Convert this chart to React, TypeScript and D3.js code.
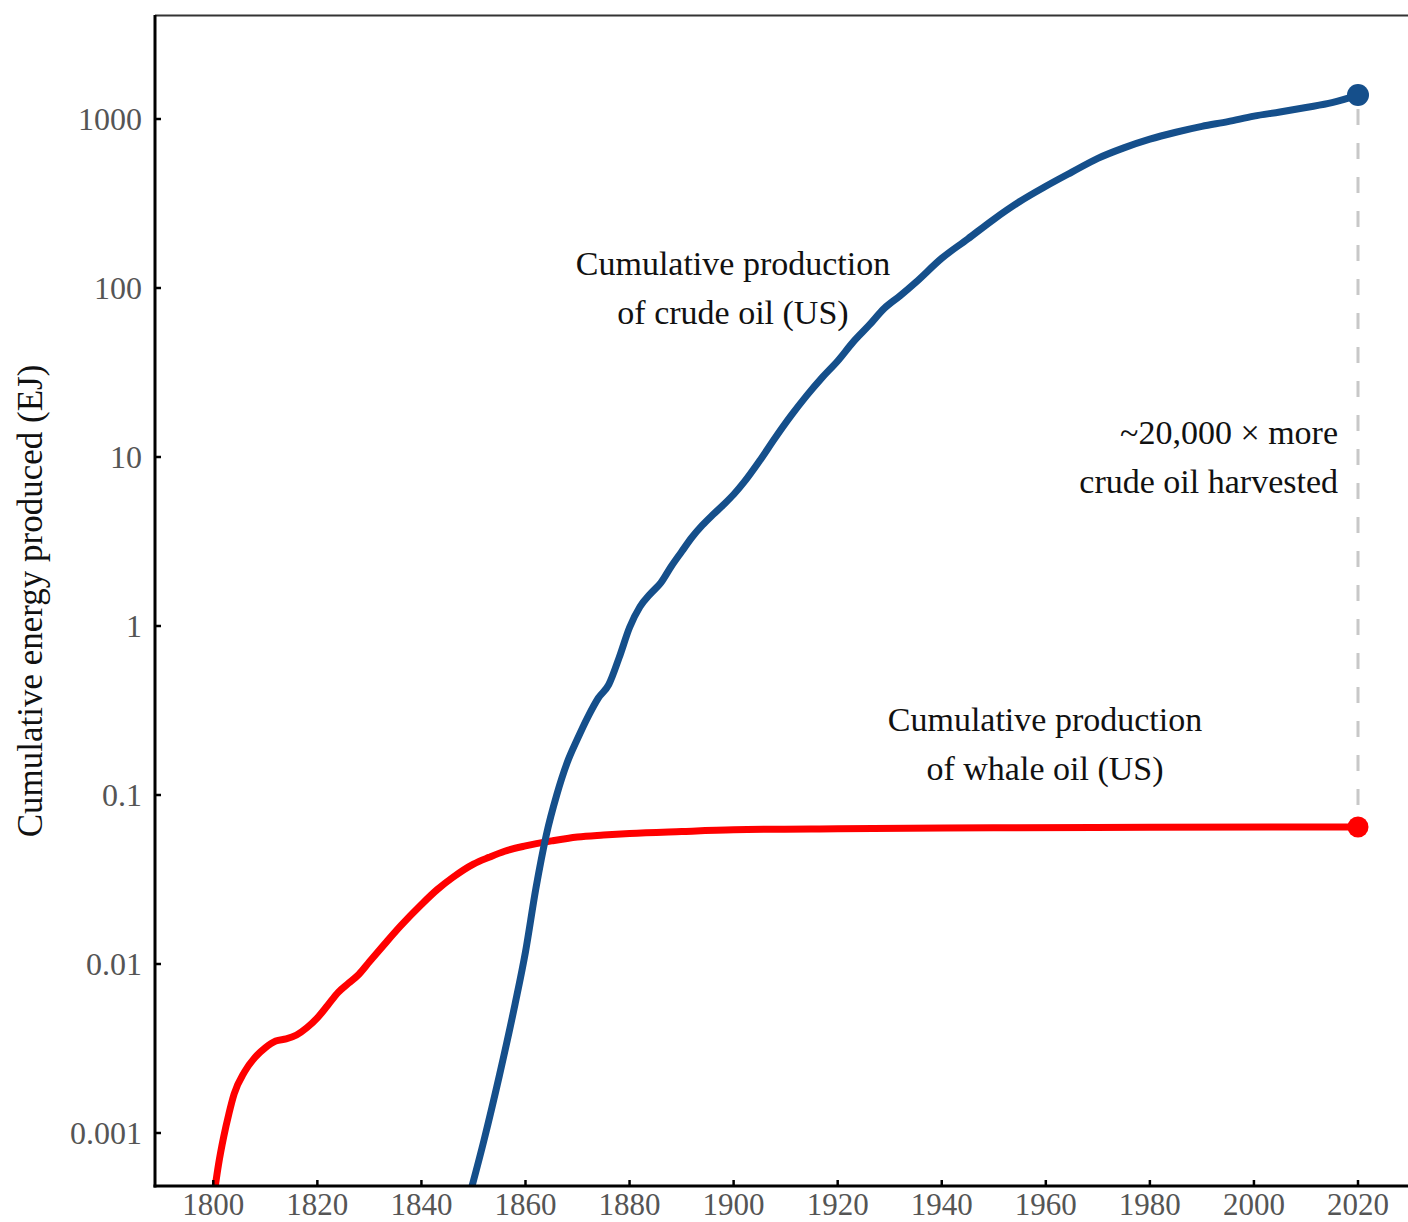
import React from 'react'
import * as d3 from 'd3'

// cumulative US crude oil production (EJ)
const oilYears = [1849, 1852, 1855, 1858, 1860, 1862, 1864, 1866, 1868, 1870, 1872, 1874, 1876, 1878, 1880, 1882, 1884, 1886, 1888, 1890, 1892, 1894, 1896, 1898, 1900, 1902, 1905, 1908, 1911, 1914, 1917, 1920, 1923, 1926, 1929, 1932, 1935, 1940, 1945, 1950, 1955, 1960, 1965, 1970, 1975, 1980, 1985, 1990, 1995, 2000, 2005, 2010, 2015, 2020]
const oilValues = [0.0004, 0.0009, 0.0022, 0.0058, 0.0118, 0.028, 0.058, 0.1, 0.155, 0.215, 0.29, 0.375, 0.45, 0.65, 0.98, 1.3, 1.55, 1.8, 2.25, 2.75, 3.35, 3.95, 4.55, 5.2, 6.0, 7.1, 9.5, 13, 17.5, 23, 29.5, 37, 48, 60, 76, 90, 108, 150, 195, 255, 325, 400, 485, 585, 675, 760, 835, 905, 965, 1040, 1100, 1170, 1250, 1385]

// cumulative US whale oil production (EJ)
const whaleYears = [1800, 1801, 1802, 1803, 1804, 1806, 1808, 1810, 1812, 1814, 1816, 1818, 1820, 1822, 1824, 1826, 1828, 1830, 1833, 1836, 1840, 1843, 1846, 1850, 1853, 1856, 1860, 1865, 1870, 1875, 1880, 1890, 1900, 1920, 1950, 1980, 2020]
const whaleValues = [0.0004, 0.00065, 0.00095, 0.0013, 0.0017, 0.0023, 0.0028, 0.0032, 0.0035, 0.0036, 0.0038, 0.0042, 0.0048, 0.0057, 0.0068, 0.0077, 0.0087, 0.0103, 0.0132, 0.0168, 0.0225, 0.0275, 0.0325, 0.039, 0.0428, 0.0465, 0.05, 0.0535, 0.0565, 0.058, 0.0592, 0.0608, 0.0622, 0.0632, 0.064, 0.0644, 0.0647]

const xTicks = [1800, 1820, 1840, 1860, 1880, 1900, 1920, 1940, 1960, 1980, 2000, 2020]
const yTicks = [0.001, 0.01, 0.1, 1, 10, 100, 1000]
const yTickLabels = ['0.001', '0.01', '0.1', '1', '10', '100', '1000']

const oilLabel = ['Cumulative production', 'of crude oil (US)']
const whaleLabel = ['Cumulative production', 'of whale oil (US)']
const ratioLabel = ['~20,000 \u00d7 more', 'crude oil harvested']
const yTitle = 'Cumulative energy produced (EJ)'

const BLUE = '#154f8b'
const RED = '#ff0000'
const FONT = '"Liberation Serif", "DejaVu Serif", serif'

class App extends React.Component {
  constructor (props) {
    super(props)
    this.myRef = React.createRef()
  }

  componentDidMount () {
    const width = 1408
    const height = 1222
    const plot = { left: 155, top: 15, right: 1420, bottom: 1186 }

    const svg = d3.select(this.myRef.current)
    svg.selectAll('*').remove()
    svg.attr('width', width).attr('height', height)

    // scales: ticks sit at fixed pixel spacing
    const x = d3.scaleLinear().domain([1800, 2020]).range([213.3, 1358])
    const y = d3.scaleLog().domain([0.001, 1000]).range([1133, 119])

    svg.append('defs').append('clipPath')
      .attr('id', 'plot-clip')
      .append('rect')
      .attr('x', plot.left)
      .attr('y', plot.top)
      .attr('width', plot.right - plot.left)
      .attr('height', plot.bottom - plot.top)

    const line = d3.line()
      .x((d) => x(d[0]))
      .y((d) => y(d[1]))
      .curve(d3.curveMonotoneX)

    const oil = oilYears.map((yr, i) => [yr, oilValues[i]])
    const whale = whaleYears.map((yr, i) => [yr, whaleValues[i]])
    const lastOil = oil[oil.length - 1]
    const lastWhale = whale[whale.length - 1]

    // dashed gap between the two end points
    svg.append('line')
      .attr('x1', x(2020))
      .attr('x2', x(2020))
      .attr('y1', y(lastOil[1]) + 14)
      .attr('y2', y(lastWhale[1]) - 8)
      .attr('stroke', '#c8c8c8')
      .attr('stroke-width', 3)
      .attr('stroke-dasharray', '16,18')

    const g = svg.append('g').attr('clip-path', 'url(#plot-clip)')

    g.append('path')
      .datum(whale)
      .attr('d', line)
      .attr('fill', 'none')
      .attr('stroke', RED)
      .attr('stroke-width', 7)

    g.append('path')
      .datum(oil)
      .attr('d', line)
      .attr('fill', 'none')
      .attr('stroke', BLUE)
      .attr('stroke-width', 7)

    svg.append('circle')
      .attr('cx', x(lastOil[0]))
      .attr('cy', y(lastOil[1]))
      .attr('r', 11)
      .attr('fill', BLUE)

    svg.append('circle')
      .attr('cx', x(lastWhale[0]))
      .attr('cy', y(lastWhale[1]))
      .attr('r', 10.5)
      .attr('fill', RED)

    // frame: thin top border, heavy left and bottom axes
    svg.append('line')
      .attr('x1', plot.left).attr('x2', width)
      .attr('y1', plot.top + 0.5).attr('y2', plot.top + 0.5)
      .attr('stroke', '#333').attr('stroke-width', 2)

    svg.append('line')
      .attr('x1', plot.left).attr('x2', plot.left)
      .attr('y1', plot.top).attr('y2', plot.bottom + 1.5)
      .attr('stroke', '#000').attr('stroke-width', 3)

    svg.append('line')
      .attr('x1', plot.left - 1.5).attr('x2', width)
      .attr('y1', plot.bottom).attr('y2', plot.bottom)
      .attr('stroke', '#000').attr('stroke-width', 3)

    // x ticks (pointing inward)
    const xg = svg.append('g')
    xg.selectAll('line')
      .data(xTicks)
      .enter()
      .append('line')
      .attr('x1', (d) => x(d)).attr('x2', (d) => x(d))
      .attr('y1', plot.bottom).attr('y2', plot.bottom - 6)
      .attr('stroke', '#000').attr('stroke-width', 2.5)
    xg.selectAll('text')
      .data(xTicks)
      .enter()
      .append('text')
      .attr('x', (d) => x(d))
      .attr('y', 1215)
      .attr('text-anchor', 'middle')
      .attr('fill', '#555')
      .style('font-family', FONT)
      .style('font-size', '31px')
      .text((d) => d)

    // y ticks
    const yg = svg.append('g')
    yg.selectAll('line')
      .data(yTicks)
      .enter()
      .append('line')
      .attr('x1', plot.left).attr('x2', plot.left + 6)
      .attr('y1', (d) => y(d)).attr('y2', (d) => y(d))
      .attr('stroke', '#000').attr('stroke-width', 2.5)
    yg.selectAll('text')
      .data(yTicks)
      .enter()
      .append('text')
      .attr('x', 142)
      .attr('y', (d) => y(d))
      .attr('dy', '0.35em')
      .attr('text-anchor', 'end')
      .attr('fill', '#555')
      .style('font-family', FONT)
      .style('font-size', '32px')
      .text((d, i) => yTickLabels[i])

    svg.append('text')
      .attr('transform', 'translate(42,601) rotate(-90)')
      .attr('text-anchor', 'middle')
      .attr('fill', '#111')
      .style('font-family', FONT)
      .style('font-size', '35px')
      .text(yTitle)

    // annotations
    const annotate = (lines, ax, ay, anchor) => {
      const t = svg.append('text')
        .attr('text-anchor', anchor)
        .attr('fill', '#111')
        .style('font-family', FONT)
        .style('font-size', '34px')
      lines.forEach((s, i) => {
        t.append('tspan').attr('x', ax).attr('y', ay + i * 49).text(s)
      })
    }
    annotate(oilLabel, 733, 275, 'middle')
    annotate(whaleLabel, 1045, 731, 'middle')
    annotate(ratioLabel, 1338, 444, 'end')
  }

  render () {
    return (
      <svg ref={this.myRef} style={{ position: 'absolute', left: 0, top: 0, display: 'block' }} />
    )
  }
}

export default App
